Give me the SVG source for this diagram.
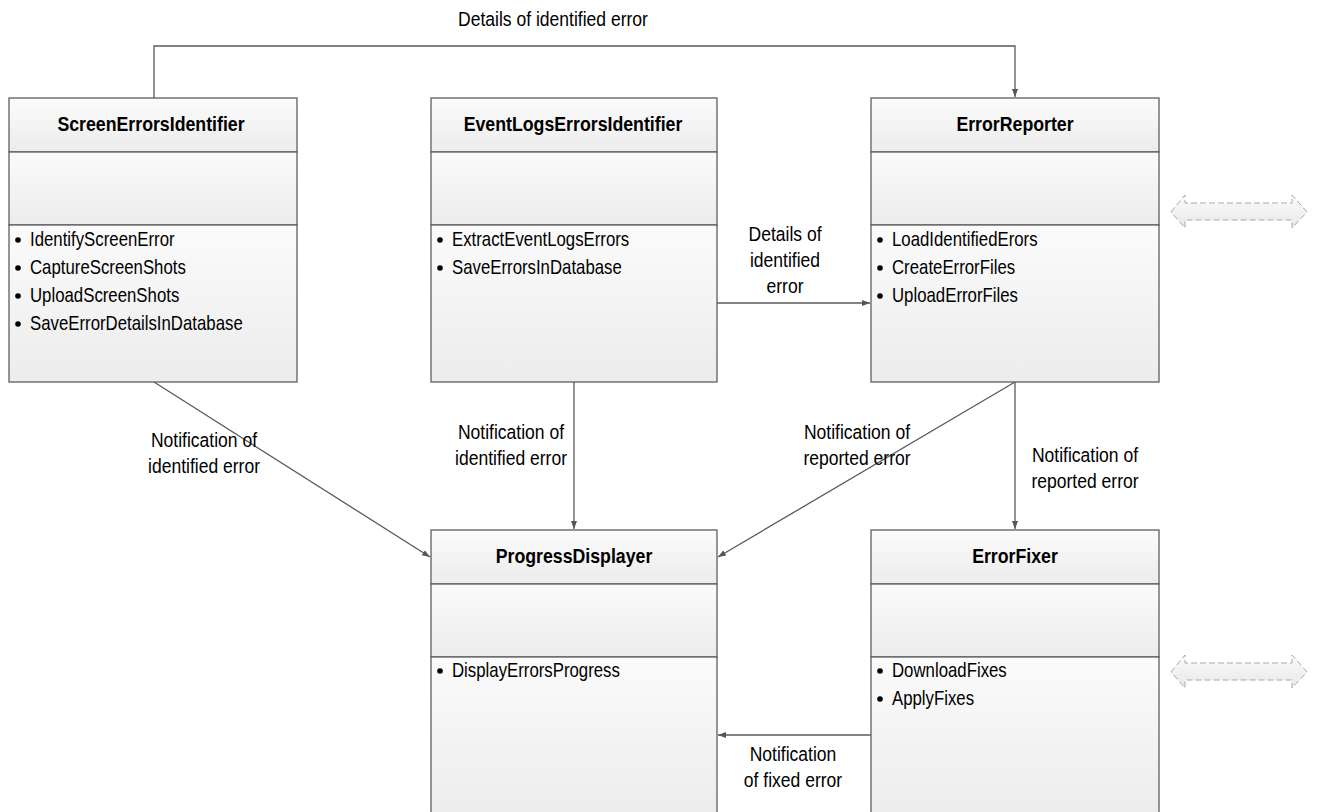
<svg xmlns="http://www.w3.org/2000/svg" width="1317" height="812" viewBox="0 0 1317 812">
  <defs>
    <linearGradient id="compFill" x1="0" y1="0" x2="0" y2="1">
      <stop offset="0" stop-color="#fbfbfb"/>
      <stop offset="1" stop-color="#ececec"/>
    </linearGradient>
    <linearGradient id="arrowFill" x1="0" y1="0" x2="0" y2="1">
      <stop offset="0" stop-color="#fbfbfb"/>
      <stop offset="1" stop-color="#e8e8e8"/>
    </linearGradient>
    <marker id="tip" viewBox="0 0 8 8" refX="8" refY="4" markerWidth="8" markerHeight="8" markerUnits="userSpaceOnUse" orient="auto">
      <path d="M0,1 L8,4 L0,7 Z" fill="#555"/>
    </marker>
    <style>
      .comp { fill: url(#compFill); stroke: #5f5f5f; stroke-width: 1.3; }
      .title { font-family: "Liberation Sans", Arial, sans-serif; font-size: 19.5px; font-weight: bold; fill: #000; text-anchor: middle; }
      .item { font-family: "Liberation Sans", Arial, sans-serif; font-size: 20px; fill: #000; }
      .lbl { font-family: "Liberation Sans", Arial, sans-serif; font-size: 20.5px; fill: #000; text-anchor: middle; }
      .conn { fill: none; stroke: #5a5a5a; stroke-width: 1.3; marker-end: url(#tip); }
      .dbl { fill: url(#arrowFill); stroke: #a8a8a8; stroke-width: 1; stroke-dasharray: 6 3; }
    </style>
  </defs>

  <rect width="1317" height="812" fill="#ffffff"/>

  <!-- connectors and their labels (text narrowed horizontally) -->
  <g id="connectors">
    <polyline class="conn" points="154,98 154,46 1015,46 1015,97"/>
    <line class="conn" x1="717" y1="303" x2="870" y2="303"/>
    <line class="conn" x1="154" y1="382" x2="430" y2="557"/>
    <line class="conn" x1="574" y1="382" x2="574" y2="529"/>
    <line class="conn" x1="1015" y1="382" x2="718" y2="557"/>
    <line class="conn" x1="1015" y1="382" x2="1015" y2="529"/>
    <line class="conn" x1="871" y1="735" x2="718" y2="735"/>

    <text class="lbl" transform="translate(553,26) scale(0.855,1)">Details of identified error</text>
    <text class="lbl" transform="translate(785,241) scale(0.855,1)">Details of</text>
    <text class="lbl" transform="translate(785,267) scale(0.855,1)">identified</text>
    <text class="lbl" transform="translate(785,293) scale(0.855,1)">error</text>
    <text class="lbl" transform="translate(204,447) scale(0.855,1)">Notification of</text>
    <text class="lbl" transform="translate(204,473) scale(0.855,1)">identified error</text>
    <text class="lbl" transform="translate(511,439) scale(0.855,1)">Notification of</text>
    <text class="lbl" transform="translate(511,465) scale(0.855,1)">identified error</text>
    <text class="lbl" transform="translate(857,439) scale(0.855,1)">Notification of</text>
    <text class="lbl" transform="translate(857,465) scale(0.855,1)">reported error</text>
    <text class="lbl" transform="translate(1085,462) scale(0.855,1)">Notification of</text>
    <text class="lbl" transform="translate(1085,488) scale(0.855,1)">reported error</text>
    <text class="lbl" transform="translate(793,761) scale(0.855,1)">Notification</text>
    <text class="lbl" transform="translate(793,787) scale(0.855,1)">of fixed error</text>
  </g>

  <!-- ScreenErrorsIdentifier -->
  <g id="screenErrorsIdentifier">
    <rect class="comp" x="9" y="98" width="288" height="54"/>
    <rect class="comp" x="9" y="152" width="288" height="73"/>
    <rect class="comp" x="9" y="225" width="288" height="157"/>
    <text class="title" transform="translate(151,131) scale(0.91,1)">ScreenErrorsIdentifier</text>
    <g class="item">
      <circle cx="18" cy="240" r="2.8"/><text transform="translate(30,246) scale(0.84,1)">IdentifyScreenError</text>
      <circle cx="18" cy="268" r="2.8"/><text transform="translate(30,274) scale(0.84,1)">CaptureScreenShots</text>
      <circle cx="18" cy="296" r="2.8"/><text transform="translate(30,302) scale(0.84,1)">UploadScreenShots</text>
      <circle cx="18" cy="324" r="2.8"/><text transform="translate(30,330) scale(0.84,1)">SaveErrorDetailsInDatabase</text>
    </g>
  </g>

  <!-- EventLogsErrorsIdentifier -->
  <g id="eventLogsErrorsIdentifier">
    <rect class="comp" x="431" y="98" width="286" height="54"/>
    <rect class="comp" x="431" y="152" width="286" height="73"/>
    <rect class="comp" x="431" y="225" width="286" height="157"/>
    <text class="title" transform="translate(573,131) scale(0.91,1)">EventLogsErrorsIdentifier</text>
    <g class="item">
      <circle cx="440" cy="240" r="2.8"/><text transform="translate(452,246) scale(0.84,1)">ExtractEventLogsErrors</text>
      <circle cx="440" cy="268" r="2.8"/><text transform="translate(452,274) scale(0.84,1)">SaveErrorsInDatabase</text>
    </g>
  </g>

  <!-- ErrorReporter -->
  <g id="errorReporter">
    <rect class="comp" x="871" y="98" width="288" height="54"/>
    <rect class="comp" x="871" y="152" width="288" height="73"/>
    <rect class="comp" x="871" y="225" width="288" height="157"/>
    <text class="title" transform="translate(1015,131) scale(0.91,1)">ErrorReporter</text>
    <g class="item">
      <circle cx="880" cy="240" r="2.8"/><text transform="translate(892,246) scale(0.84,1)">LoadIdentifiedErors</text>
      <circle cx="880" cy="268" r="2.8"/><text transform="translate(892,274) scale(0.84,1)">CreateErrorFiles</text>
      <circle cx="880" cy="296" r="2.8"/><text transform="translate(892,302) scale(0.84,1)">UploadErrorFiles</text>
    </g>
  </g>

  <!-- ProgressDisplayer -->
  <g id="progressDisplayer">
    <rect class="comp" x="431" y="530" width="286" height="54"/>
    <rect class="comp" x="431" y="584" width="286" height="73"/>
    <rect class="comp" x="431" y="657" width="286" height="160"/>
    <text class="title" transform="translate(574,563) scale(0.91,1)">ProgressDisplayer</text>
    <g class="item">
      <circle cx="440" cy="671" r="2.8"/><text transform="translate(452,677) scale(0.84,1)">DisplayErrorsProgress</text>
    </g>
  </g>

  <!-- ErrorFixer -->
  <g id="errorFixer">
    <rect class="comp" x="871" y="530" width="288" height="54"/>
    <rect class="comp" x="871" y="584" width="288" height="73"/>
    <rect class="comp" x="871" y="657" width="288" height="160"/>
    <text class="title" transform="translate(1015,563) scale(0.91,1)">ErrorFixer</text>
    <g class="item">
      <circle cx="880" cy="671" r="2.8"/><text transform="translate(892,677) scale(0.84,1)">DownloadFixes</text>
      <circle cx="880" cy="699" r="2.8"/><text transform="translate(892,705) scale(0.84,1)">ApplyFixes</text>
    </g>
  </g>

  <!-- double-headed block arrows on the right -->
  <g id="blockArrow1">
    <path class="dbl" d="M1171,212 L1185,195 L1185,203 L1292,203 L1292,195 L1307,212 L1292,228 L1292,220 L1185,220 L1185,228 Z"/>
  </g>
  <g id="blockArrow2">
    <path class="dbl" d="M1171,672 L1185,655 L1185,663 L1292,663 L1292,655 L1307,672 L1292,688 L1292,680 L1185,680 L1185,688 Z"/>
  </g>
</svg>
